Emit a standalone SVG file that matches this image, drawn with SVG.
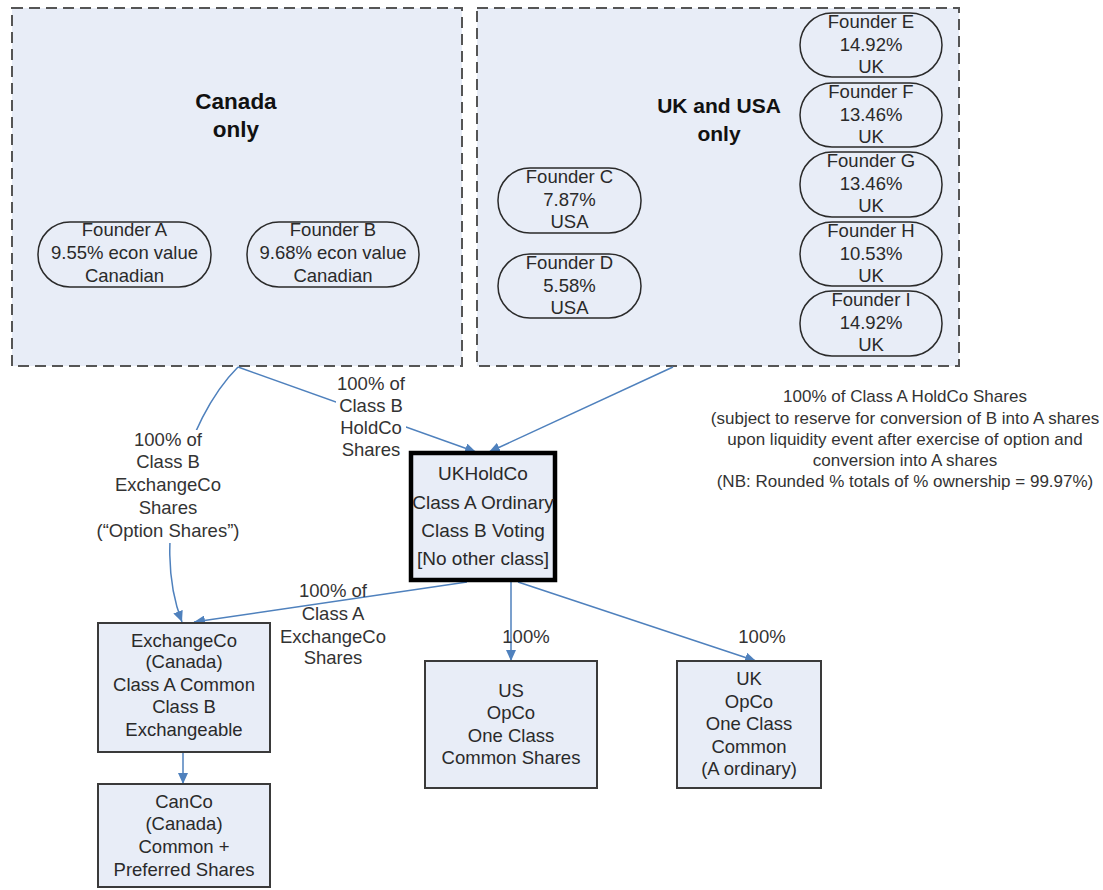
<svg xmlns="http://www.w3.org/2000/svg" width="1103" height="890" viewBox="0 0 1103 890">
<style>
text{font-family:"Liberation Sans",Arial,sans-serif;fill:#2a2a2a;text-anchor:middle}
.region{fill:#e8edf7;stroke:#555;stroke-width:2;stroke-dasharray:11 6}
.title{font-size:21px;font-weight:bold;fill:#111}
.ctitle{font-size:22.5px;font-weight:bold;fill:#111}
.pill{fill:none;stroke:#2a2a2a;stroke-width:1.5}
.ft{font-size:18.5px}
.box{fill:#e8edf7;stroke:#3a3a3a;stroke-width:2}
.hold{fill:#e8edf7;stroke:#000;stroke-width:4.5}
.nt{font-size:18.5px}
.ht{font-size:19px}
.lb{font-size:18.5px;fill:#333}
.rl{font-size:17px;fill:#333}
.edge{fill:none;stroke:#4f81bd;stroke-width:1.5}
</style>
<defs>
<marker id="ah" markerUnits="userSpaceOnUse" markerWidth="12" markerHeight="10" refX="11" refY="5" orient="auto">
<path d="M0,0 L11,5 L0,10 Z" fill="#4f81bd"/>
</marker>
</defs>
<g id="canada-region">
<rect class="region" x="12" y="8" width="450" height="358"/>
<text class="ctitle" x="236" y="109">Canada</text>
<text class="ctitle" x="236" y="137">only</text>
</g>
<g id="uk-usa-region">
<rect class="region" x="477" y="8" width="482" height="358"/>
<text class="title" x="719" y="113">UK and USA</text>
<text class="title" x="719" y="141">only</text>
</g>
<g id="founder-a">
<rect class="pill" x="38" y="222" width="173" height="65" rx="32" ry="32"/>
<text class="ft" x="124.5" y="236">Founder A</text>
<text class="ft" x="124.5" y="259">9.55% econ value</text>
<text class="ft" x="124.5" y="282">Canadian</text>
</g>
<g id="founder-b">
<rect class="pill" x="247" y="222" width="172" height="65" rx="32" ry="32"/>
<text class="ft" x="333" y="236">Founder B</text>
<text class="ft" x="333" y="259">9.68% econ value</text>
<text class="ft" x="333" y="282">Canadian</text>
</g>
<g id="founder-c">
<rect class="pill" x="498" y="168" width="143" height="65" rx="32" ry="32"/>
<text class="ft" x="569.5" y="183">Founder C</text>
<text class="ft" x="569.5" y="206">7.87%</text>
<text class="ft" x="569.5" y="228">USA</text>
</g>
<g id="founder-d">
<rect class="pill" x="498" y="254" width="143" height="64" rx="32" ry="32"/>
<text class="ft" x="569.5" y="269">Founder D</text>
<text class="ft" x="569.5" y="292">5.58%</text>
<text class="ft" x="569.5" y="314">USA</text>
</g>
<g id="founder-e">
<rect class="pill" x="800" y="13" width="142" height="64" rx="32" ry="32"/>
<text class="ft" x="871" y="28">Founder E</text>
<text class="ft" x="871" y="51">14.92%</text>
<text class="ft" x="871" y="73">UK</text>
</g>
<g id="founder-f">
<rect class="pill" x="800" y="83" width="142" height="64" rx="32" ry="32"/>
<text class="ft" x="871" y="98">Founder F</text>
<text class="ft" x="871" y="121">13.46%</text>
<text class="ft" x="871" y="143">UK</text>
</g>
<g id="founder-g">
<rect class="pill" x="800" y="152" width="142" height="65" rx="32" ry="32"/>
<text class="ft" x="871" y="167">Founder G</text>
<text class="ft" x="871" y="190">13.46%</text>
<text class="ft" x="871" y="212">UK</text>
</g>
<g id="founder-h">
<rect class="pill" x="800" y="222" width="142" height="64" rx="32" ry="32"/>
<text class="ft" x="871" y="237">Founder H</text>
<text class="ft" x="871" y="260">10.53%</text>
<text class="ft" x="871" y="282">UK</text>
</g>
<g id="founder-i">
<rect class="pill" x="800" y="291" width="142" height="65" rx="32" ry="32"/>
<text class="ft" x="871" y="306">Founder I</text>
<text class="ft" x="871" y="329">14.92%</text>
<text class="ft" x="871" y="351">UK</text>
</g>
<g id="connectors">
<path class="edge" d="M238,367 L476,452" marker-end="url(#ah)"/>
<path class="edge" d="M673,367 L489,452" marker-end="url(#ah)"/>
<path class="edge" d="M238,367 C185,420 150,540 182,622" marker-end="url(#ah)"/>
<path class="edge" d="M467,582 L194,622" marker-end="url(#ah)"/>
<path class="edge" d="M511,582 L511,661" marker-end="url(#ah)"/>
<path class="edge" d="M518,582 L756,661" marker-end="url(#ah)"/>
<path class="edge" d="M183,752 L183,784" marker-end="url(#ah)"/>
<rect x="336" y="373" width="70" height="88" fill="#fff"/>
<text class="lb" x="371" y="390">100% of</text>
<text class="lb" x="371" y="412">Class B</text>
<text class="lb" x="371" y="434">HoldCo</text>
<text class="lb" x="371" y="456">Shares</text>
<rect x="94" y="430" width="150" height="113" fill="#fff"/>
<text class="lb" x="168" y="446">100% of</text>
<text class="lb" x="168" y="468">Class B</text>
<text class="lb" x="168" y="491">ExchangeCo</text>
<text class="lb" x="168" y="514">Shares</text>
<text class="lb" x="168" y="537">(“Option Shares”)</text>
<text class="lb" x="333" y="597">100% of</text>
<text class="lb" x="333" y="620">Class A</text>
<text class="lb" x="333" y="643">ExchangeCo</text>
<text class="lb" x="333" y="664">Shares</text>
<text class="lb" x="526" y="643">100%</text>
<text class="lb" x="762" y="643">100%</text>
<text class="rl" x="905" y="402">100% of Class A HoldCo Shares</text>
<text class="rl" x="905" y="424">(subject to reserve for conversion of B into A shares</text>
<text class="rl" x="905" y="445">upon liquidity event after exercise of option and</text>
<text class="rl" x="905" y="466">conversion into A shares</text>
<text class="rl" x="905" y="487">(NB: Rounded % totals of % ownership = 99.97%)</text>
</g>
<g id="ukholdco">
<rect class="hold" x="411" y="453" width="144" height="127"/>
<text class="ht" x="483" y="480">UKHoldCo</text>
<text class="ht" x="483" y="509">Class A Ordinary</text>
<text class="ht" x="483" y="537">Class B Voting</text>
<text class="ht" x="483" y="565">[No other class]</text>
</g>
<g id="exchangeco">
<rect class="box" x="98" y="623" width="172" height="129"/>
<text class="nt" x="184" y="647">ExchangeCo</text>
<text class="nt" x="184" y="668">(Canada)</text>
<text class="nt" x="184" y="691">Class A Common</text>
<text class="nt" x="184" y="713">Class B</text>
<text class="nt" x="184" y="736">Exchangeable</text>
</g>
<g id="canco">
<rect class="box" x="98" y="784" width="172" height="103"/>
<text class="nt" x="184" y="808">CanCo</text>
<text class="nt" x="184" y="830">(Canada)</text>
<text class="nt" x="184" y="853">Common +</text>
<text class="nt" x="184" y="876">Preferred Shares</text>
</g>
<g id="us-opco">
<rect class="box" x="425" y="661" width="172" height="127"/>
<text class="nt" x="511" y="697">US</text>
<text class="nt" x="511" y="719">OpCo</text>
<text class="nt" x="511" y="742">One Class</text>
<text class="nt" x="511" y="764">Common Shares</text>
</g>
<g id="uk-opco">
<rect class="box" x="677" y="661" width="144" height="127"/>
<text class="nt" x="749" y="685">UK</text>
<text class="nt" x="749" y="708">OpCo</text>
<text class="nt" x="749" y="730">One Class</text>
<text class="nt" x="749" y="753">Common</text>
<text class="nt" x="749" y="775">(A ordinary)</text>
</g>
</svg>
